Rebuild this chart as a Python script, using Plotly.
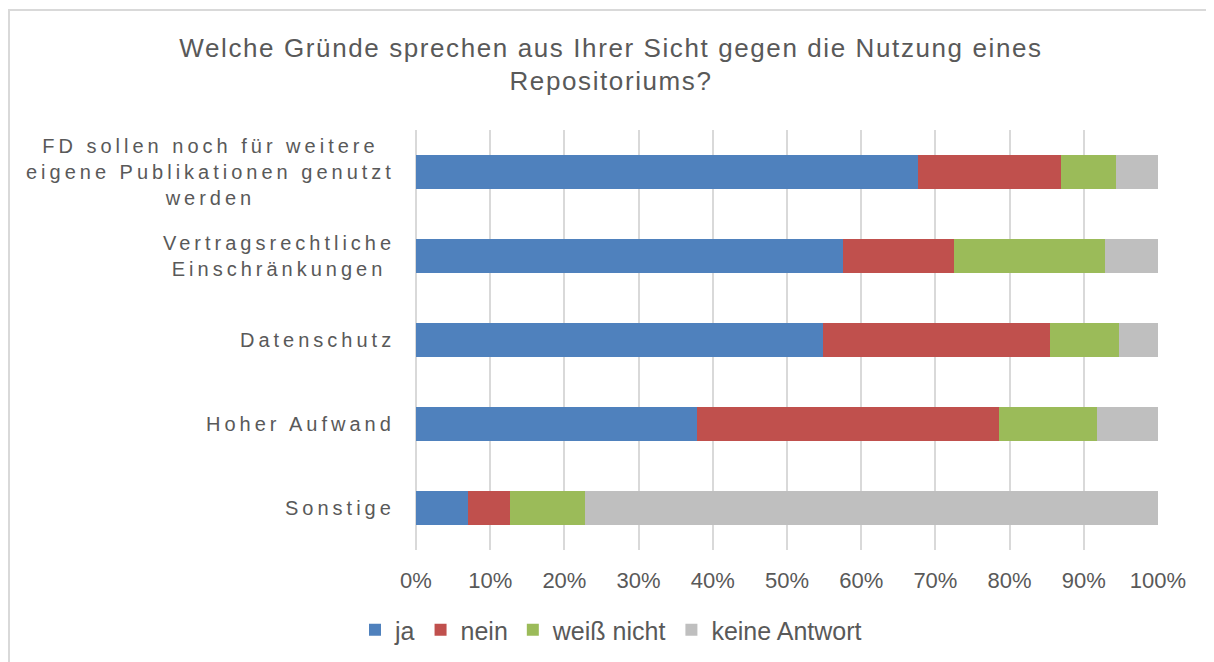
import plotly.graph_objects as go

categories = [
    "FD sollen noch für weitere|eigene Publikationen genutzt|werden",
    "Vertragsrechtliche|Einschränkungen",
    "Datenschutz",
    "Hoher Aufwand",
    "Sonstige",
]
series_names = ["ja", "nein", "weiß nicht", "keine Antwort"]
ja = [67.7, 57.5, 54.8, 37.9, 7.0]
nein = [19.2, 15.0, 30.6, 40.7, 5.7]
weiss_nicht = [7.4, 20.4, 9.3, 13.2, 10.1]
keine_antwort = [5.7, 7.1, 5.3, 8.2, 77.2]
x_ticks = [0, 10, 20, 30, 40, 50, 60, 70, 80, 90, 100]
x_tick_labels = ["0%", "10%", "20%", "30%", "40%", "50%", "60%", "70%", "80%", "90%", "100%"]
title_lines = ["Welche Gründe sprechen aus Ihrer Sicht gegen die Nutzung eines", "Repositoriums?"]

colors = ["#4F81BD", "#C0504D", "#9BBB59", "#BFBFBF"]
TXT = "#595959"
GRID = "#D9D9D9"
FONT = "Liberation Sans, Arial, sans-serif"

W, H = 1206, 654

fig = go.Figure()
for name, vals, col in zip(series_names, [ja, nein, weiss_nicht, keine_antwort], colors):
    fig.add_trace(go.Bar(
        y=categories, x=vals, name=name, orientation="h",
        marker=dict(color=col, line=dict(width=0)),
        hoverinfo="x+name",
    ))


def spaced(text, ls):
    return "<br>".join(f"<span style='letter-spacing:{ls}px'>{t}</span>" for t in text.split("|"))


annotations = []
for c in categories:
    annotations.append(dict(
        xref="paper", yref="y", x=0, y=c, xanchor="right", yanchor="middle",
        xshift=-19, align="center", showarrow=False,
        text=spaced(c, 4), font=dict(family=FONT, size=20, color=TXT),
    ))

fig.update_layout(
    width=W, height=H,
    paper_bgcolor="white", plot_bgcolor="white",
    barmode="stack", bargap=0.6,
    margin=dict(l=408, r=56, t=122, b=112),
    title=dict(
        text=spaced("|".join(title_lines), 1.6),
        font=dict(family=FONT, size=26, color=TXT),
        x=0.5, xref="container", xanchor="center",
        y=1 - 48.5 / H, yref="container", yanchor="middle",
    ),
    font=dict(family=FONT, color=TXT),
    xaxis=dict(
        range=[0, 100], tickvals=x_ticks, ticktext=x_tick_labels,
        showgrid=True, gridcolor=GRID, gridwidth=1.5,
        zeroline=True, zerolinecolor=GRID, zerolinewidth=1.5,
        showline=False, ticks="outside", ticklen=11, tickcolor="rgba(0,0,0,0)",
        tickfont=dict(family=FONT, size=22, color=TXT), fixedrange=True,
    ),
    yaxis=dict(
        autorange="reversed", showticklabels=False, showgrid=False,
        zeroline=False, showline=False, fixedrange=True,
    ),
    legend=dict(
        orientation="h", xref="container", yref="container",
        x=0.5, xanchor="center", y=32 / H, yanchor="middle",
        font=dict(family=FONT, size=25, color=TXT),
        traceorder="normal", itemwidth=30,
    ),
    annotations=annotations,
    shapes=[dict(
        type="rect", xref="paper", yref="paper",
        x0=-0.5485, x1=1.2, y0=-0.5, y1=1.2857,
        line=dict(color=GRID, width=2), fillcolor="rgba(0,0,0,0)", layer="below",
    )],
    showlegend=True,
)

fig.write_html("out.html")
